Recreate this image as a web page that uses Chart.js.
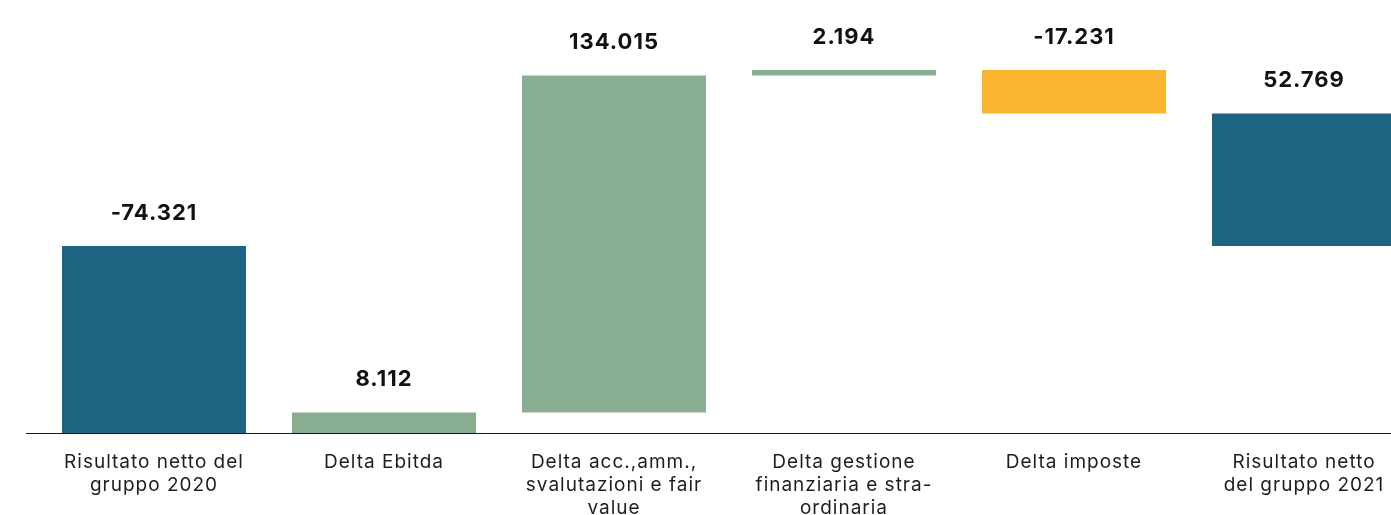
<!DOCTYPE html>
<html>
<head>
<meta charset="utf-8">
<script src="https://cdn.jsdelivr.net/npm/chart.js@4"></script>
<style>
  html, body { margin: 0; padding: 0; background: #fff; overflow: hidden; }
  #wrap { width: 1420px; height: 515px; position: relative; }
</style>
</head>
<body>
<div id="wrap"><canvas id="waterfall"></canvas></div>
<script>
// --- dati ---
const categories = [
    ['Risultato netto del', 'gruppo 2020'],
    ['Delta Ebitda'],
    ['Delta acc.,amm.,', 'svalutazioni e fair', 'value'],
    ['Delta gestione', 'finanziaria e stra-', 'ordinaria'],
    ['Delta imposte'],
    ['Risultato netto', 'del gruppo 2021']
];
const values = [-74.321, 8.112, 134.015, 2.194, -17.231, 52.769];
const valueLabels = ['-74.321', '8.112', '134.015', '2.194', '-17.231', '52.769'];
const barColors = ['#1c6482', '#88ad91', '#88ad91', '#88ad91', '#f9b52f', '#1c6482'];

// barre fluttuanti (waterfall)
const ranges = [];
ranges.push([0, -values[0]]);
let running = 0;
for (let i = 1; i < values.length - 1; i++) {
    ranges.push([running, running + values[i]]);
    running += values[i];
}
ranges.push([running, running - values[values.length - 1]]);

// testo un po' piu' largo, tipo Gotham
const spacing = {
    id: 'spacing',
    beforeDraw(chart) {
        chart.ctx.letterSpacing = '1px';
    }
};

// etichette sopra le barre + linea dell'asse
const topLabels = {
    id: 'topLabels',
    afterDatasetsDraw(chart) {
        const ctx = chart.ctx;
        const meta = chart.getDatasetMeta(0);
        ctx.save();
        ctx.font = 'bold 22px Inter';
        ctx.letterSpacing = '1px';
        ctx.fillStyle = '#111';
        ctx.textAlign = 'center';
        ctx.textBaseline = 'middle';
        meta.data.forEach((bar, i) => {
            const top = Math.min(bar.y, bar.base);
            ctx.fillText(valueLabels[i], bar.x, top - 33);
        });
        // axis line
        const y0 = Math.round(chart.scales.y.getPixelForValue(0)) + 0.5;
        ctx.strokeStyle = '#1a1a1a';
        ctx.lineWidth = 1.2;
        ctx.beginPath();
        ctx.moveTo(26, y0);
        ctx.lineTo(chart.width, y0);
        ctx.stroke();
        ctx.restore();
    }
};

new Chart(document.getElementById('waterfall').getContext('2d'), {
    type: 'bar',
    data: {
        labels: categories,
        datasets: [{
            data: ranges,
            backgroundColor: barColors,
            borderWidth: 0,
            barPercentage: 1,
            categoryPercentage: 0.8
        }]
    },
    options: {
        responsive: true,
        maintainAspectRatio: false,
        animation: false,
        layout: { padding: { left: 39, right: 1, top: 0, bottom: 0 } },
        scales: {
            x: {
                grid: { display: false, drawTicks: false },
                border: { display: false },
                ticks: {
                    color: '#1e1e1e',
                    font: { family: 'Inter', size: 19, lineHeight: 1.2 },
                    padding: 18,
                    maxRotation: 0,
                    autoSkip: false
                },
                afterFit: s => { s.height = 82; }
            },
            y: {
                display: false,
                min: 0,
                max: 172.2
            }
        },
        plugins: {
            legend: { display: false },
            tooltip: { enabled: false }
        }
    },
    plugins: [spacing, topLabels]
});
</script>
</body>
</html>
